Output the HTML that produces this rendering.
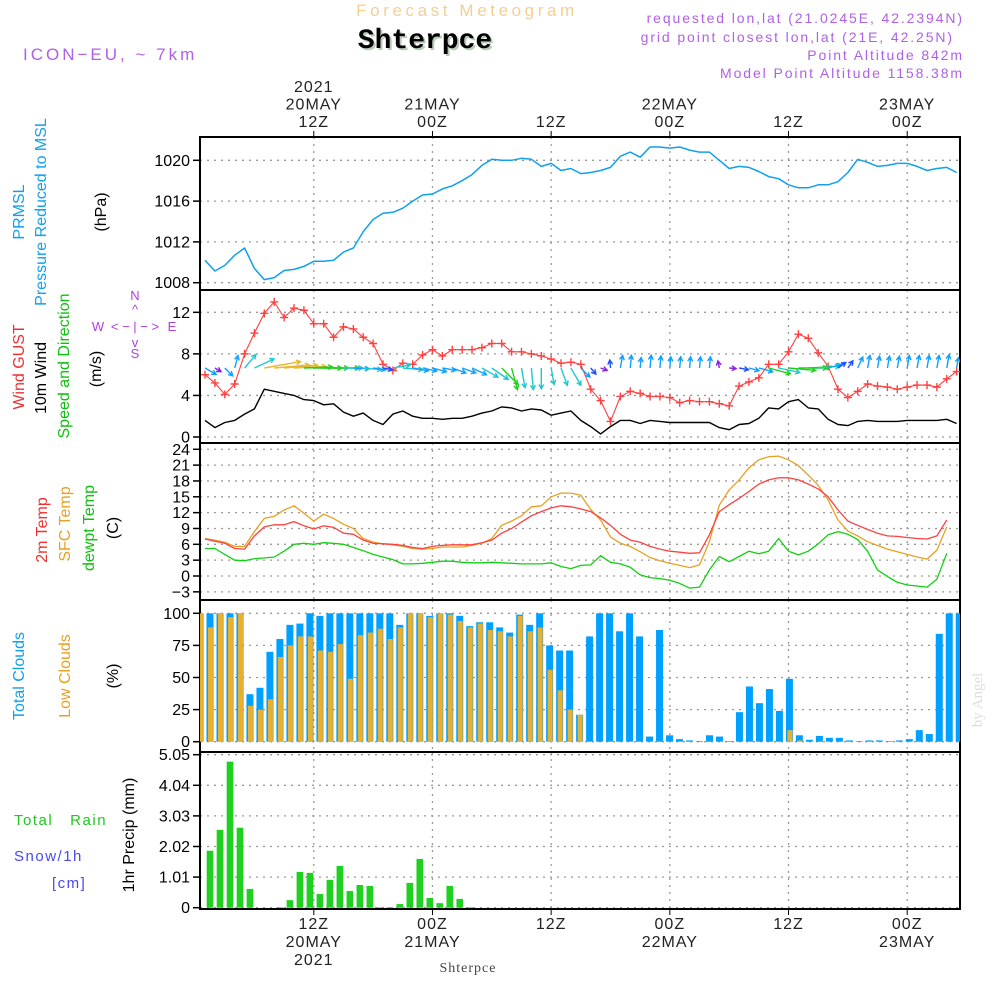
<!DOCTYPE html>
<html><head><meta charset="utf-8"><style>
html,body{margin:0;padding:0;background:#fff;}
svg{display:block;font-family:"Liberation Sans",sans-serif;}
.n{font-family:"Liberation Sans Narrow","Liberation Sans",sans-serif;}
</style></head><body>
<svg id="chart" width="1000" height="1000" viewBox="0 0 1000 1000" xmlns="http://www.w3.org/2000/svg">
<rect width="1000" height="1000" fill="#fff"/>
<text x="467" y="16" text-anchor="middle" font-size="17" letter-spacing="3.6" fill="#f3cf94">Forecast Meteogram</text>
<text x="427" y="50" text-anchor="middle" font-size="28" font-weight="bold" font-family="Liberation Mono,monospace" fill="#b8ccb8">Shterpce</text>
<text x="425" y="48" text-anchor="middle" font-size="28" font-weight="bold" font-family="Liberation Mono,monospace" fill="#000">Shterpce</text>
<text x="23" y="60" font-size="17" letter-spacing="3" fill="#b060e8">ICON−EU, ~ 7km</text>
<g font-size="14" letter-spacing="1.9" fill="#b060e8" text-anchor="end">
<text x="964" y="23">requested lon,lat (21.0245E, 42.2394N)</text>
<text x="954" y="42">grid point closest lon,lat (21E, 42.25N)</text>
<text x="964" y="60">Point Altitude 842m</text>
<text x="964" y="78">Model Point Altitude 1158.38m</text>
</g>
<g id="axes"></g>
<g class="n" font-size="16">
<text transform="translate(24,212) rotate(-90)" text-anchor="middle" fill="#10a0f0">PRMSL</text>
<text transform="translate(46,212) rotate(-90)" text-anchor="middle" fill="#10a0f0">Pressure Reduced to MSL</text>
<text transform="translate(106,212) rotate(-90)" text-anchor="middle" fill="#000">(hPa)</text>
<text transform="translate(24,367) rotate(-90)" text-anchor="middle" fill="#f03030">Wind GUST</text>
<text transform="translate(46,378) rotate(-90)" text-anchor="middle" fill="#000">10m Wind</text>
<text transform="translate(69,366) rotate(-90)" text-anchor="middle" fill="#10c010">Speed and Direction</text>
<text transform="translate(101,369) rotate(-90)" text-anchor="middle" fill="#000">(m/s)</text>
<text transform="translate(47,530) rotate(-90)" text-anchor="middle" fill="#f03030">2m Temp</text>
<text transform="translate(70,524) rotate(-90)" text-anchor="middle" fill="#e8a020">SFC Temp</text>
<text transform="translate(94,528) rotate(-90)" text-anchor="middle" fill="#10c010">dewpt Temp</text>
<text transform="translate(118,528) rotate(-90)" text-anchor="middle" fill="#000">(C)</text>
<text transform="translate(24,676) rotate(-90)" text-anchor="middle" fill="#10a0f0">Total Clouds</text>
<text transform="translate(70,676) rotate(-90)" text-anchor="middle" fill="#e8a020">Low Clouds</text>
<text transform="translate(118,676) rotate(-90)" text-anchor="middle" fill="#000">(%)</text>
<text transform="translate(134,835) rotate(-90)" text-anchor="middle" fill="#000">1hr Precip (mm)</text>
</g>
<g font-size="15" letter-spacing="1.5">
<text x="14" y="825" fill="#20c820">Total&#160;&#160;&#160;Rain</text>
<text x="14" y="861" fill="#4848f0">Snow/1h</text>
<text x="52" y="888" fill="#4848f0">[cm]</text>
</g>
<g font-size="13" fill="#b040e0" text-anchor="middle">
<text x="135" y="300">N</text><text x="135" y="314">^</text>
<text x="98" y="331">W</text><text x="135" y="331">&lt; − | − &gt;</text><text x="172" y="331">E</text>
<text x="135" y="347">v</text><text x="135" y="358">S</text>
</g>
<text transform="translate(982,700) rotate(-90)" text-anchor="middle" font-size="15" font-family="Liberation Serif,serif" fill="#ddd">by Angel</text>
<text x="468" y="972" text-anchor="middle" font-size="14" font-family="Liberation Serif,serif" letter-spacing="1" fill="#444">Shterpce</text>
<g id="plots"></g>
</svg>
<script>
// ---------- data ----------
const pressure = [1010.2,1009.15,1009.7,1010.7,1011.4,1009.4,1008.3,1008.5,1009.2,1009.3,1009.6,1010.1,1010.1,1010.2,1011.0,1011.4,1013.0,1014.2,1014.8,1014.9,1015.3,1016.0,1016.6,1016.7,1017.2,1017.5,1018.0,1018.6,1019.5,1020.1,1020.0,1020.0,1020.2,1020.1,1019.4,1019.7,1019.0,1019.2,1018.7,1018.8,1019.0,1019.3,1020.4,1020.8,1020.3,1021.3,1021.3,1021.2,1021.3,1021.0,1020.8,1020.8,1020.0,1019.2,1019.4,1019.3,1018.9,1018.4,1018.2,1017.6,1017.3,1017.3,1017.6,1017.6,1017.9,1018.8,1020.1,1019.8,1019.4,1019.5,1019.7,1019.7,1019.4,1019.0,1019.2,1019.3,1018.8];
const gust = [6.0,5.2,4.1,5.1,8.0,10.0,11.9,13.0,11.5,12.4,12.2,10.9,10.9,9.6,10.6,10.4,9.6,9.0,7.0,6.4,7.1,7.0,7.9,8.4,7.8,8.4,8.4,8.4,8.6,9.0,9.0,8.2,8.2,8.0,7.8,7.5,7.1,7.2,7.0,4.6,3.5,1.5,3.9,4.4,4.2,3.9,3.9,3.8,3.3,3.5,3.4,3.4,3.2,3.0,4.9,5.3,5.7,7.0,7.0,8.2,9.9,9.5,8.1,6.8,4.6,3.8,4.4,5.1,4.9,4.8,4.6,4.8,5.0,5.0,4.8,5.6,6.3];
const wind10 = [1.6,0.9,1.4,1.6,2.2,2.7,4.6,4.4,4.2,4.0,3.6,3.5,3.1,3.2,2.4,2.0,2.3,1.6,1.2,2.2,2.5,2.0,1.8,1.8,1.7,1.8,1.8,2.0,2.3,2.5,2.9,2.8,2.5,2.7,2.6,2.1,2.3,2.5,1.6,1.0,0.3,1.0,1.6,1.6,1.3,1.6,1.5,1.4,1.4,1.4,1.4,1.4,0.9,0.7,1.2,1.3,1.8,2.8,2.7,3.4,3.6,2.8,2.7,1.7,1.2,1.1,1.5,1.6,1.5,1.5,1.5,1.6,1.6,1.6,1.6,1.7,1.3];
const windDir = [-30,-30,-45,75,50,25,10,5,5,3,2,0,0,0,0,-3,-5,-8,-10,10,-5,-10,-12,-15,-10,-20,-20,-25,-30,-35,-45,-75,-80,-85,-90,-80,-70,-60,-45,-50,-20,95,80,85,85,85,85,85,85,85,85,85,100,-5,-10,-15,-15,-15,-12,-5,0,3,5,15,35,55,65,80,80,80,80,80,80,80,80,80,80];
const temp2m = [7.0,6.6,6.2,5.2,5.1,7.6,9.3,9.7,9.7,10.3,9.5,8.9,9.5,9.2,8.1,7.9,6.8,6.2,6.1,6.0,5.8,5.4,5.2,5.6,5.8,5.9,5.9,5.9,6.3,6.8,8.1,9.0,10.2,11.4,12.2,12.9,13.3,13.1,12.7,12.2,11.0,9.6,7.9,6.8,6.4,5.6,5.1,4.7,4.5,4.3,4.4,7.8,12.2,13.5,14.7,16.0,17.4,18.2,18.6,18.6,18.2,17.4,16.5,15.0,12.5,10.4,9.6,8.8,8.1,7.6,7.5,7.3,7.1,7.0,7.6,10.6];
const tempSfc = [7.1,6.8,6.4,5.6,5.6,8.4,10.9,11.3,12.5,13.3,11.9,10.4,11.7,10.9,9.8,9.0,7.1,6.4,6.1,5.9,5.6,5.2,5.1,5.2,5.5,5.5,5.5,5.8,6.2,7.1,9.6,10.4,11.4,13.1,13.3,15.0,15.7,15.7,15.3,12.6,10.6,7.4,6.2,5.6,4.6,3.5,2.9,2.4,2.0,1.6,2.1,6.5,13.4,16.3,18.2,20.5,22.0,22.6,22.7,22.0,20.9,19.1,17.2,14.4,10.6,8.5,7.6,6.5,5.8,5.1,4.6,4.1,3.6,3.2,4.9,9.3];
const dewpt = [5.2,5.2,4.1,3.0,2.9,3.3,3.4,3.6,4.7,6.0,6.2,6.0,6.3,6.2,6.0,5.4,4.8,4.1,3.6,3.1,2.3,2.3,2.4,2.6,2.8,2.8,2.6,2.5,2.5,2.6,2.5,2.4,2.3,2.3,2.3,2.5,1.8,1.4,2.0,2.1,3.85,2.6,2.3,1.65,0.2,-0.3,-0.5,-0.8,-1.4,-2.3,-2.1,1.15,3.7,2.7,3.7,4.7,4.2,4.7,7.1,4.7,4.0,4.7,6.1,7.8,8.4,7.9,6.9,4.7,1.15,-0.1,-1.2,-1.7,-1.9,-2.1,-0.6,4.3];
const totalClouds = [100,100,100,100,100,37,42,70,80,91,92,100,98,100,100,100,100,100,100,100,91,100,100,98,100,100,98,90,93,93,89,85,99,91,100,75,71,71,21,82,100,100,86,100,82,4,87,5,2,1,0.5,5,4,0.5,23,43,30,41,24,49,5,1.5,4.5,3,3,1,0.5,1,1,0.5,1,2,9,6,84,100,100];
const lowClouds = [100,89,100,97,100,28,25,33,66,75,82,82,71,70,76,49,83,85,88,80,89,100,100,97,100,99,94,89,92,87,86,82,98,86,89,56,40,25,21,0,0,0,0,0,0,0,0,0,0,0,0,0,0,0,0,0,0,0,0,9,1,0,0,0,0,0,0,0,0,0,0,0,0,0,0,0,0];
const precip = [0,1.88,2.57,4.82,2.64,0.62,0,0,0.02,0.25,1.18,1.15,0.45,0.92,1.38,0.55,0.75,0.72,0.02,0.02,0.12,0.82,1.61,0.32,0.15,0.72,0.29,0.02,0,0,0,0,0,0,0,0,0,0,0,0,0,0,0,0,0,0,0,0,0,0,0,0,0,0,0,0,0,0,0,0,0,0,0,0,0,0,0,0,0,0,0,0,0,0,0,0,0];
const tickHours = [12,24,36,48,60,72];
const topTickLabels = [["2021","20MAY","12Z"],["21MAY","00Z"],["12Z"],["22MAY","00Z"],["12Z"],["23MAY","00Z"]];
const bottomTickLabels = [["12Z","20MAY","2021"],["00Z","21MAY"],["12Z"],["00Z","22MAY"],["12Z"],["00Z","23MAY"]];
const pressureTicks = [1008,1012,1016,1020];
const windTicks = [0,4,8,12];
const tempTicks = [-3,0,3,6,9,12,15,18,21,24];
const cloudTicks = [0,25,50,75,100];
const precipTicks = [0,1.01,2.02,3.03,4.04,5.05];

// ---------- scales ----------
const X0=200, X1=960;
const xLine = h => 205 + (h-1)*9.89;
const xBar = i => 200 + i*9.99;
const yP = p => 282.7 - (p-1008)*10.2;
const yW = v => 437 - v*10.39;
const yT = t => 576 - t*5.28;
const yC = c => 741.7 - c*1.284;
const yR = r => 907.7 - r*30.3;
const panels = [[137,290],[290,443],[443,600],[600,752],[752,909]];

const NS='http://www.w3.org/2000/svg';
function mk(parent, tag, attrs){const e=document.createElementNS(NS,tag);for(const k in attrs)e.setAttribute(k,attrs[k]);parent.appendChild(e);return e;}
const axes=document.getElementById('axes');
const plots=document.getElementById('plots');

const defs=mk(plots,'defs',{});
const cp=mk(defs,'clipPath',{id:'plotclip'});
mk(cp,'rect',{x:X0,y:137,width:X1-X0,height:772});

tickHours.forEach((h,k)=>{
  panels.forEach(([a,b])=>{
    const g=mk(axes,'line',{x1:xLine(h),x2:xLine(h),y1:a,y2:b,stroke:'#999','stroke-dasharray':'2,5','stroke-width':1.3});
    
    
  });
  const t1=mk(axes,'line',{x1:xLine(h),x2:xLine(h),y1:131,y2:137,stroke:'#000'});
  
  
  const t2=mk(axes,'line',{x1:xLine(h),x2:xLine(h),y1:909,y2:915,stroke:'#000'});
  
  
  const lines=topTickLabels[k];
  lines.forEach((s,j)=>{
    const t=mk(axes,'text',{x:xLine(h),y:127-(lines.length-1-j)*17.5,'text-anchor':'middle','font-size':16,'letter-spacing':1,fill:'#222'});
    t.textContent=s;
    
    
  });
  bottomTickLabels[k].forEach((s,j)=>{
    const t=mk(axes,'text',{x:xLine(h),y:929+j*18,'text-anchor':'middle','font-size':16,'letter-spacing':1,fill:'#222'});
    t.textContent=s;
    
    
  });
});

function yAxis(ticks, scale, fmt, name){
  ticks.forEach(v=>{
    const y=scale(v);
    const g=mk(axes,'line',{x1:X0,x2:X1,y1:y,y2:y,stroke:'#999','stroke-dasharray':'2,5','stroke-width':1.3});
    
    
    const tk=mk(axes,'line',{x1:X0-7,x2:X0,y1:y,y2:y,stroke:'#000','stroke-width':1.5});
    
    
    const t=mk(axes,'text',{x:X0-10,y:y+5.5,'text-anchor':'end','font-size':16,fill:'#000'});
    t.textContent=fmt(v);
    
    
  });
}
yAxis(pressureTicks,yP,v=>String(v),'pressure');
yAxis(windTicks,yW,v=>String(v),'wind');
yAxis(tempTicks,yT,v=>v<0?'−'+Math.abs(v):String(v),'temp');
yAxis(cloudTicks,yC,v=>String(v),'cloud');
yAxis(precipTicks,yR,v=>v===0?'0':v.toFixed(2),'precip');

panels.forEach(([a,b])=>{
  const r=mk(axes,'rect',{x:X0,y:a,width:X1-X0,height:b-a,fill:'none',stroke:'#000','stroke-width':2});
  
  
});

const clipG=mk(plots,'g',{'clip-path':'url(#plotclip)'});

totalClouds.forEach((v,i)=>{
  const r=mk(clipG,'rect',{x:xBar(i)-3.5,y:yC(v),width:7,height:yC(0)-yC(v),fill:'#00a0ff'});
  
  
});
lowClouds.forEach((v,i)=>{
  if(v<=0)return;
  const r=mk(clipG,'rect',{x:xBar(i)-2,y:yC(v),width:5,height:yC(0)-yC(v),fill:'#e8b030'});
  
  
});
precip.forEach((v,i)=>{
  if(v<=0)return;
  const r=mk(clipG,'rect',{x:xBar(i)-3.3,y:yR(v),width:6.6,height:yR(0)-yR(v),fill:'#20d020'});
  
  
});

function line(data, sx, sy, color, name, w){
  const pts=data.map((v,i)=>sx(i+1).toFixed(1)+','+sy(v).toFixed(1)).join(' ');
  const p=mk(clipG,'polyline',{points:pts,fill:'none',stroke:color,'stroke-width':w||1.3,'stroke-linejoin':'round'});
  
  
  return p;
}
line(pressure,xLine,yP,'#10a0f0','pressure-line',1.5);
line(wind10,xLine,yW,'#000','wind-speed-line',1.4);
line(gust,xLine,yW,'#ff4040','gust-line',1.1);
gust.forEach((v,i)=>{
  const x=xLine(i+1), y=yW(v);
  const m=mk(clipG,'path',{d:`M${x-4},${y}H${x+4}M${x},${y-4}V${y+4}`,stroke:'#ff4040','stroke-width':1.4});
  
  
});
line(tempSfc,xLine,yT,'#e8a020','sfc-temp-line',1.3);
line(temp2m,xLine,yT,'#ff4040','temp-2m-line',1.3);
line(dewpt,xLine,yT,'#10d010','dewpt-line',1.3);

function windColor(s){
  if(s<1.0)return '#8a20e0';
  if(s<1.3)return '#2050ff';
  if(s<2.1)return '#10a0ff';
  if(s<2.75)return '#20c8d0';
  if(s<3.7)return '#20d020';
  return '#e8b830';
}
windDir.forEach((d,i)=>{
  const s=wind10[i];
  const L=Math.max(7,Math.min(40,s*8));
  const a=d*Math.PI/180;
  const x0=xLine(i+1), y0=368;
  const x1=x0+L*Math.cos(a), y1=y0-L*Math.sin(a);
  const hx1=x1-5*Math.cos(a-0.5), hy1=y1+5*Math.sin(a-0.5);
  const hx2=x1-5*Math.cos(a+0.5), hy2=y1+5*Math.sin(a+0.5);
  const p=mk(clipG,'path',{d:`M${x0.toFixed(1)},${y0}L${x1.toFixed(1)},${y1.toFixed(1)}M${hx1.toFixed(1)},${hy1.toFixed(1)}L${x1.toFixed(1)},${y1.toFixed(1)}L${hx2.toFixed(1)},${hy2.toFixed(1)}`,stroke:windColor(s),'stroke-width':1.4,fill:'none'});
  
  
});
</script>
</body></html>
